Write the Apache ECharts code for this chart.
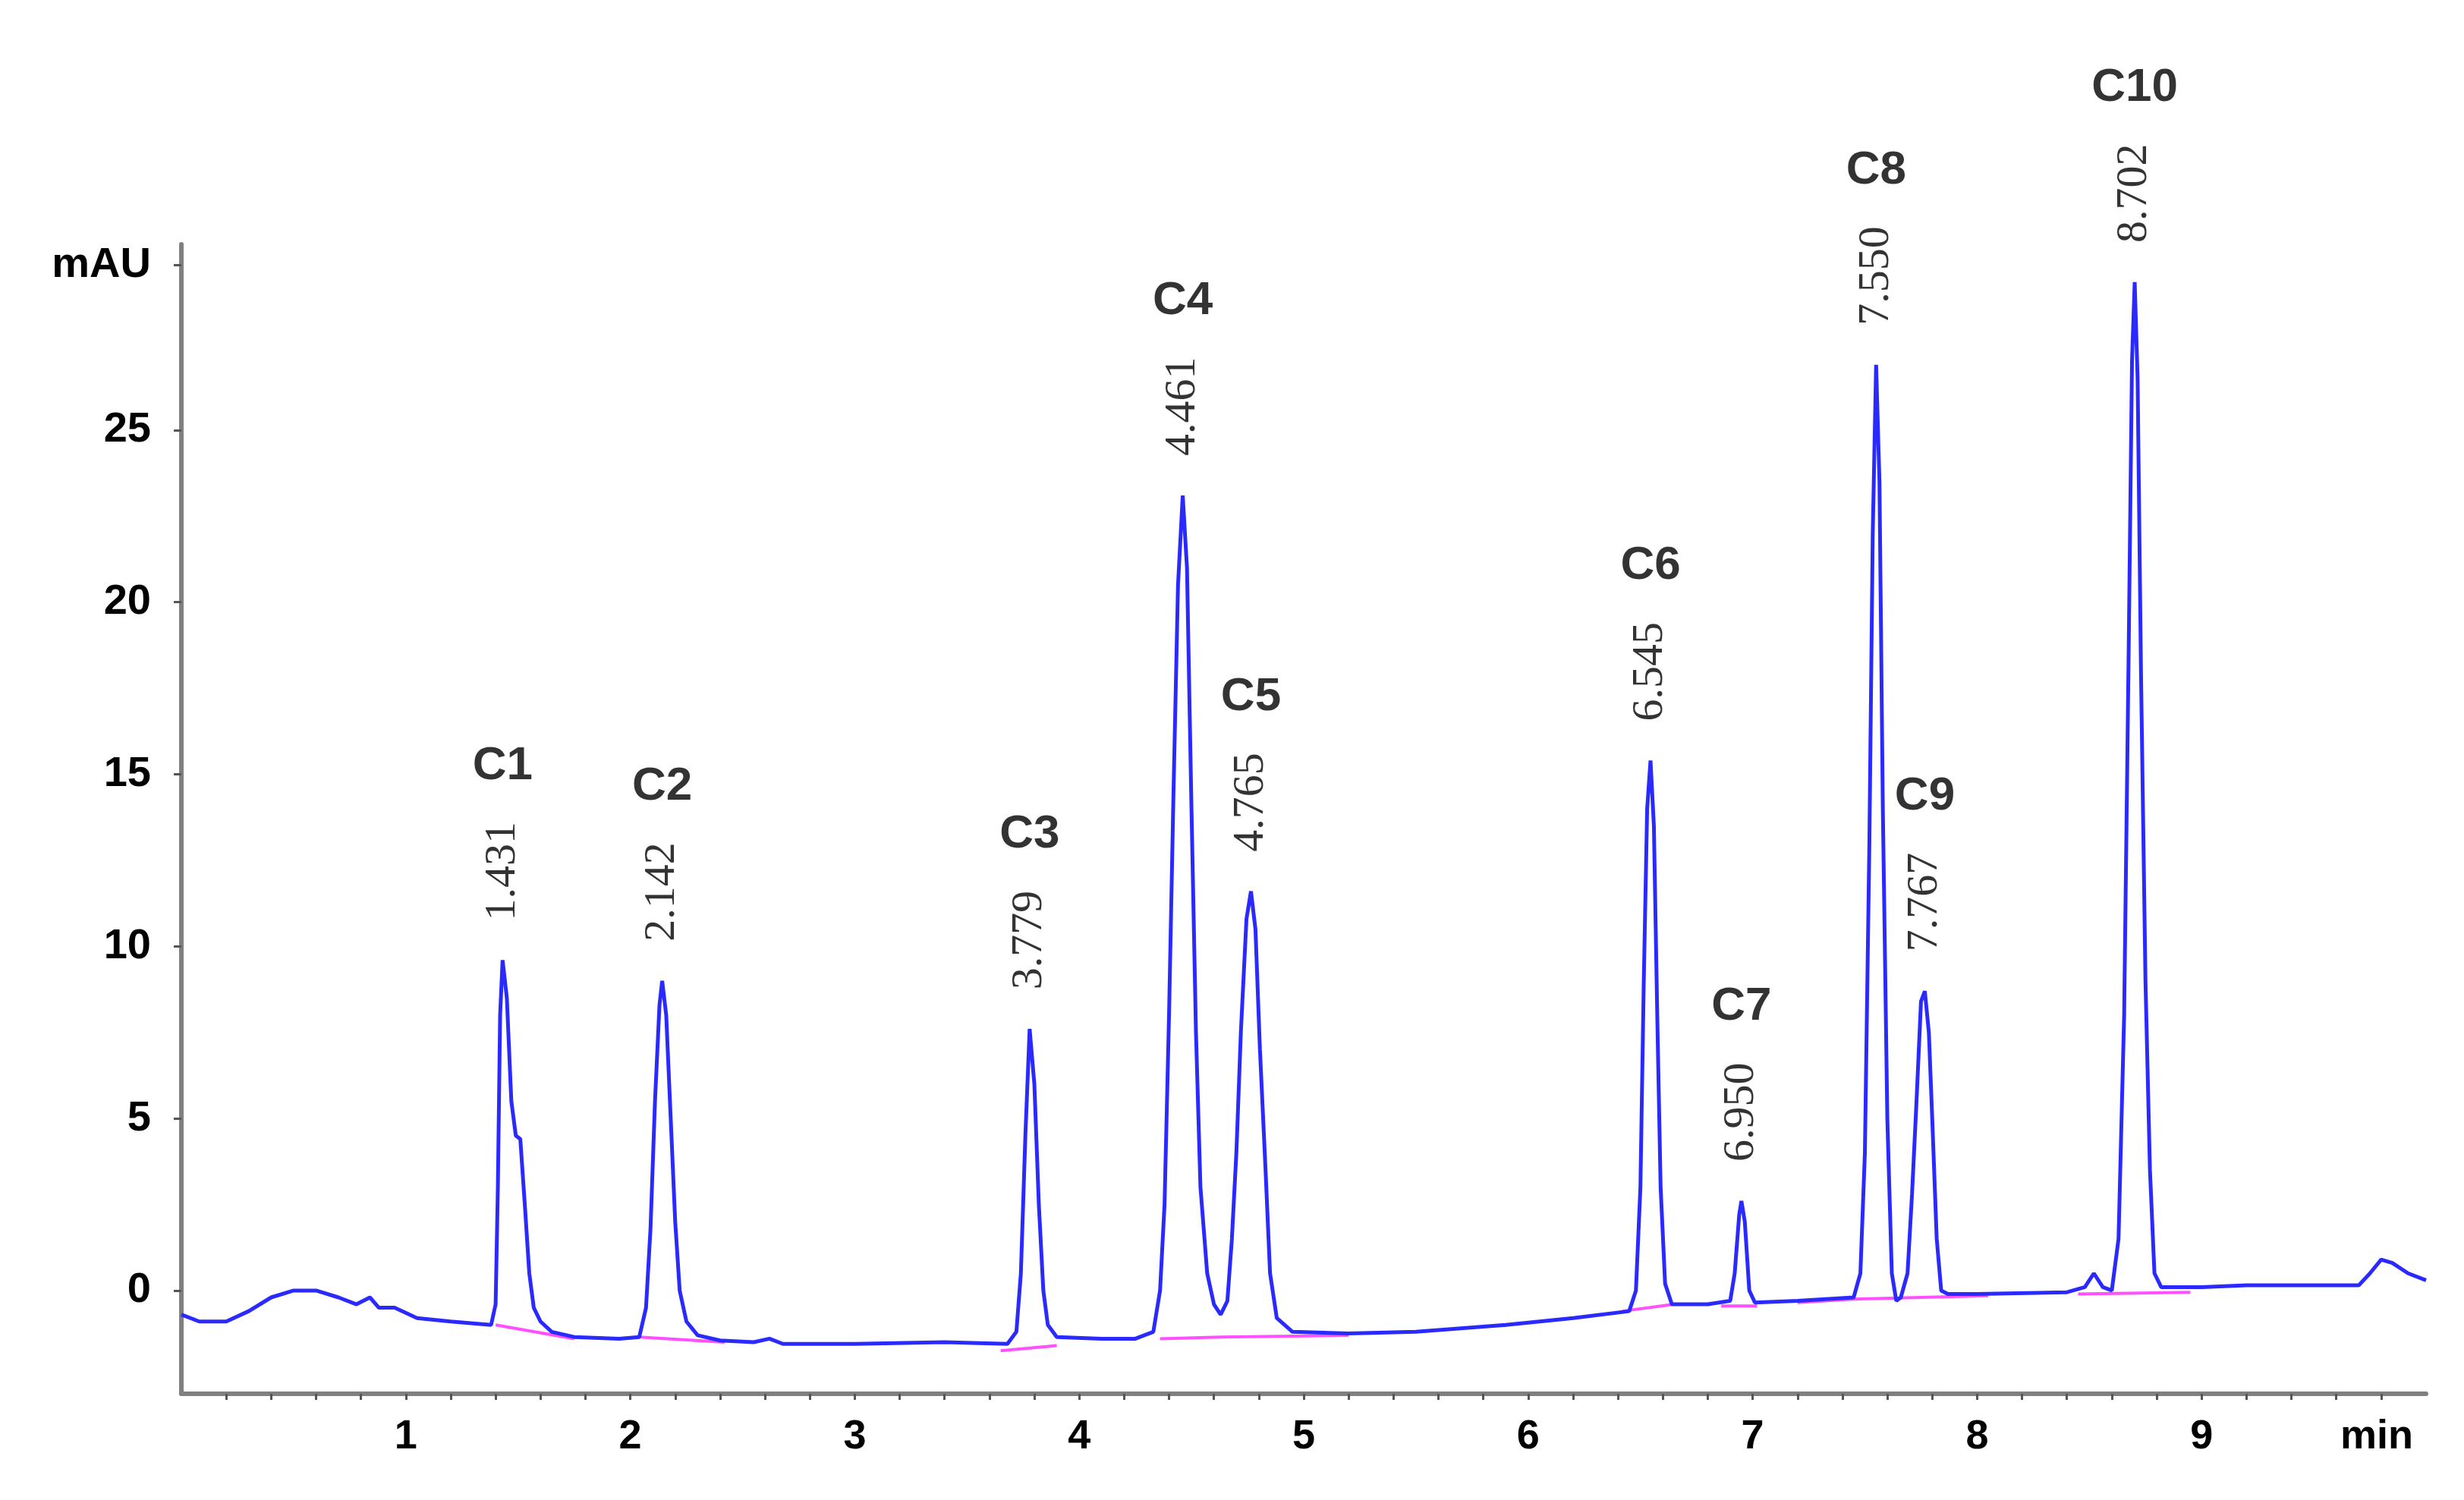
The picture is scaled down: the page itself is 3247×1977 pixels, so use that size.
<!DOCTYPE html>
<html>
<head>
<meta charset="utf-8">
<script src="https://cdn.jsdelivr.net/npm/echarts@6/dist/echarts.min.js"></script>
<style>
    html, body { margin: 0; padding: 0; background: #fff; }
    #chart { width: 3247px; height: 1977px; }
</style>
</head>
<body>
<div id="chart"></div>
<script>
// chromatogram trace [min, mAU]
var trace = [
    [0.00, -0.7], [0.08, -0.9], [0.20, -0.9], [0.30, -0.6], [0.40, -0.2], [0.50, 0.0], [0.60, 0.0],
    [0.70, -0.2], [0.78, -0.4], [0.84, -0.2], [0.88, -0.5], [0.95, -0.5], [1.05, -0.8], [1.20, -0.9],
    [1.38, -1.0], [1.40, -0.4], [1.41, 3.0], [1.42, 8.0], [1.431, 9.6], [1.45, 8.5], [1.47, 5.5],
    [1.49, 4.5], [1.51, 4.4], [1.53, 2.5], [1.55, 0.5], [1.57, -0.5], [1.60, -0.9], [1.65, -1.2],
    [1.75, -1.35], [1.95, -1.4], [2.04, -1.35], [2.07, -0.5], [2.09, 1.8], [2.11, 5.5], [2.13, 8.3],
    [2.142, 9.0], [2.16, 8.0], [2.18, 5.0], [2.20, 2.0], [2.22, 0.0], [2.25, -0.9], [2.30, -1.3],
    [2.40, -1.45], [2.55, -1.5], [2.62, -1.4], [2.68, -1.55], [3.00, -1.55], [3.40, -1.5], [3.68, -1.55],
    [3.72, -1.2], [3.74, 0.5], [3.76, 4.5], [3.779, 7.6], [3.80, 6.0], [3.82, 2.5], [3.84, 0.0],
    [3.86, -1.0], [3.90, -1.35], [4.10, -1.4], [4.25, -1.4], [4.33, -1.2], [4.36, 0.0], [4.38, 2.5],
    [4.40, 8.0], [4.42, 14.5], [4.44, 20.5], [4.461, 23.1], [4.48, 21.0], [4.50, 14.0], [4.52, 7.5],
    [4.54, 3.0], [4.57, 0.5], [4.60, -0.4], [4.63, -0.7], [4.66, -0.3], [4.68, 1.5], [4.70, 4.0],
    [4.72, 7.5], [4.745, 10.8], [4.765, 11.6], [4.785, 10.5], [4.805, 7.0], [4.83, 3.5], [4.85, 0.5],
    [4.88, -0.8], [4.95, -1.2], [5.20, -1.25], [5.50, -1.2], [5.90, -1.0], [6.20, -0.8], [6.45, -0.6],
    [6.48, 0.0], [6.50, 3.0], [6.515, 9.0], [6.53, 14.0], [6.545, 15.4], [6.56, 13.5], [6.575, 8.0],
    [6.59, 3.0], [6.61, 0.2], [6.64, -0.4], [6.80, -0.4], [6.90, -0.3], [6.92, 0.5], [6.94, 2.2],
    [6.950, 2.6], [6.965, 2.0], [6.985, 0.0], [7.01, -0.35], [7.20, -0.3], [7.45, -0.2], [7.48, 0.5],
    [7.50, 4.0], [7.52, 13.0], [7.535, 22.0], [7.550, 26.9], [7.565, 23.5], [7.58, 14.0], [7.60, 5.0],
    [7.62, 0.5], [7.64, -0.3], [7.66, -0.2], [7.69, 0.5], [7.71, 2.8], [7.73, 5.5], [7.75, 8.4],
    [7.767, 8.7], [7.785, 7.5], [7.80, 5.0], [7.82, 1.5], [7.84, 0.0], [7.87, -0.1], [8.00, -0.1],
    [8.40, -0.05], [8.48, 0.1], [8.52, 0.5], [8.56, 0.1], [8.60, 0.0], [8.63, 1.5], [8.655, 8.0],
    [8.675, 18.5], [8.69, 27.0], [8.702, 29.3], [8.715, 26.5], [8.73, 18.0], [8.75, 9.0], [8.77, 3.5],
    [8.79, 0.5], [8.82, 0.1], [9.00, 0.1], [9.20, 0.15], [9.70, 0.15], [9.75, 0.5], [9.80, 0.9],
    [9.85, 0.8], [9.92, 0.5], [10.0, 0.3]
];

// integration baselines (null separates segments)
var baselines = [
    [1.40, -1.0], [1.75, -1.4], null,
    [2.04, -1.35], [2.42, -1.5], null,
    [3.65, -1.75], [3.90, -1.6], null,
    [4.36, -1.4], [4.63, -1.35], [5.20, -1.3], null,
    [6.42, -0.6], [6.65, -0.4], null,
    [6.86, -0.45], [7.02, -0.45], null,
    [7.20, -0.35], [7.45, -0.25], [8.05, -0.15], null,
    [8.45, -0.1], [8.95, -0.05]
];

// peaks
var peakNames = ['C1', 'C2', 'C3', 'C4', 'C5', 'C6', 'C7', 'C8', 'C9', 'C10'];
var peakTimes = ['1.431', '2.142', '3.779', '4.461', '4.765', '6.545', '6.950', '7.550', '7.767', '8.702'];
var peakHeights = [9.6, 9.0, 7.6, 23.1, 11.6, 15.4, 2.6, 26.9, 8.7, 29.3];

var yLabels = [0, 5, 10, 15, 20, 25];
var xLabels = [1, 2, 3, 4, 5, 6, 7, 8, 9];

var xTicks = [];
for (var t = 1; t <= 49; t++) { xTicks.push(t / 5); }

var peakData = peakTimes.map(function (rt, i) {
    return { value: [parseFloat(rt), peakHeights[i]], rt: rt, name: peakNames[i] };
});

var chart = echarts.init(document.getElementById('chart'));
chart.setOption({
    animation: false,
    backgroundColor: '#ffffff',
    grid: { left: 239, top: 322, right: 50, bottom: 140 },
    xAxis: {
        type: 'value',
        min: 0,
        max: 10,
        axisLine: { onZero: false, lineStyle: { color: '#808080', width: 6 } },
        axisTick: { show: true, customValues: xTicks, length: 8, lineStyle: { color: '#555', width: 3 } },
        axisLabel: {
            customValues: xLabels.concat([9.78]),
            formatter: function (v) { return v > 9.5 ? 'min' : String(v); },
            color: '#000', fontFamily: 'Liberation Sans', fontWeight: 'bold', fontSize: 54, margin: 30
        },
        splitLine: { show: false }
    },
    yAxis: {
        type: 'value',
        min: -3,
        max: 30.4,
        axisLine: { show: true, lineStyle: { color: '#808080', width: 6 } },
        axisTick: { show: true, customValues: yLabels.concat([29.8]), length: 10, lineStyle: { color: '#555', width: 3 } },
        axisLabel: {
            customValues: yLabels.concat([29.8]),
            formatter: function (v) { return v > 28 ? 'mAU' : String(v); },
            color: '#000', fontFamily: 'Liberation Sans', fontWeight: 'bold', fontSize: 56, margin: 40
        },
        splitLine: { show: false }
    },
    series: [
        {
            type: 'line',
            data: baselines,
            showSymbol: false,
            connectNulls: false,
            lineStyle: { color: '#ff50ff', width: 4 },
            z: 2
        },
        {
            type: 'line',
            data: trace,
            showSymbol: false,
            smooth: false,
            lineStyle: { color: '#2a2aff', width: 5 },
            z: 3
        },
        {
            type: 'scatter',
            data: peakData,
            symbolSize: 0,
            label: {
                show: true,
                position: 'top',
                distance: 52,
                rotate: 90,
                align: 'left',
                verticalAlign: 'middle',
                formatter: function (p) { return p.data.rt; },
                color: '#000',
                fontFamily: 'Liberation Sans Narrow',
                fontSize: 58
            },
            z: 4
        },
        {
            type: 'scatter',
            data: peakData,
            symbolSize: 0,
            label: {
                show: true,
                position: 'top',
                distance: 225,
                formatter: function (p) { return p.data.name; },
                color: '#000',
                fontFamily: 'Liberation Sans',
                fontWeight: 'bold',
                fontSize: 62
            },
            z: 4
        }
    ]
});
</script>
</body>
</html>
